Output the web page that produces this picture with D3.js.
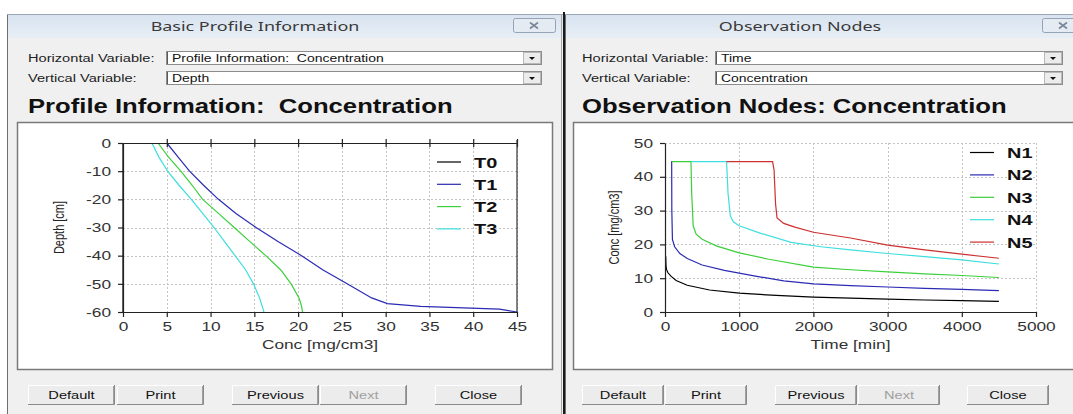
<!DOCTYPE html>
<html>
<head>
<meta charset="utf-8">
<script src="https://cdn.jsdelivr.net/npm/d3@7"></script>
<style>
  body { margin: 0; background: #fff; }
  svg { display: block; font-family: "Liberation Sans", Arial, sans-serif; }
</style>
</head>
<body>
<script>
// ---- profile chart data (depth in cm, concentration in mg/cm3)
const profileDepth = [0, -5, -10, -15, -20, -25, -30, -35, -40, -45, -50, -55, -57, -58, -59, -60];
const concT0 = [0, 0, 0, 0, 0, 0, 0, 0, 0, 0, 0, 0, 0, 0, 0, 0];
const concT1 = [5.0, 6.3, 7.6, 9.2, 10.9, 12.9, 15.2, 17.7, 20.4, 22.8, 25.6, 28.4, 30.2, 34.0, 43.0, 45.0];
const concT2 = [4.0, 5.2, 6.6, 7.9, 9.1, 10.9, 12.7, 14.5, 16.3, 18.0, 19.2, 20.1, 20.3, 20.4, 20.45, 20.5];
const concT3 = [3.3, 4.1, 5.1, 6.4, 7.8, 9.1, 10.4, 11.6, 12.8, 14.0, 14.9, 15.6, 15.8, 15.9, 16.0, 16.1];
const profileNames = ["T0", "T1", "T2", "T3"];
const profileXTicks = [0, 5, 10, 15, 20, 25, 30, 35, 40, 45];
const profileYTicks = [0, -10, -20, -30, -40, -50, -60];

// ---- observation node data (time in min, concentration in mg/cm3)
const timeN1 = [10, 13, 20, 40, 80, 150, 300, 600, 1000, 1500, 2000, 2500, 3000, 3500, 4000, 4500];
const concN1 = [16.5, 13.8, 12.6, 11.6, 10.6, 9.3, 7.9, 6.5, 5.6, 4.9, 4.4, 4.1, 3.8, 3.55, 3.35, 3.15];
const timeN2 = [85, 90, 92, 100, 130, 200, 300, 500, 800, 1200, 1600, 2000, 2500, 3000, 3500, 4000, 4500];
const concN2 = [44.5, 44.5, 30, 21.5, 19.3, 17.3, 15.8, 13.9, 12.3, 10.7, 9.2, 8.3, 7.8, 7.4, 7.0, 6.7, 6.3];
const timeN3 = [90, 350, 360, 380, 420, 500, 700, 1000, 1400, 2000, 2500, 3000, 3500, 4000, 4500];
const concN3 = [44.5, 44.5, 35, 25.5, 23.0, 21.5, 19.5, 17.5, 15.6, 13.3, 12.5, 11.9, 11.3, 10.8, 10.2];
const timeN4 = [350, 830, 850, 880, 920, 1000, 1300, 1700, 2100, 2500, 3000, 3500, 4000, 4500];
const concN4 = [44.5, 44.5, 35, 28.5, 26.7, 25.5, 23.2, 20.6, 19.3, 18.4, 17.3, 16.4, 15.4, 14.2];
const timeN5 = [830, 1450, 1470, 1490, 1510, 1600, 1750, 2000, 2500, 3000, 3500, 4000, 4500];
const concN5 = [44.5, 44.5, 42, 32, 27.8, 26.2, 25.1, 23.6, 21.9, 19.8, 18.4, 17.1, 15.9];
const nodeNames = ["N1", "N2", "N3", "N4", "N5"];
const obsXTicks = [0, 1000, 2000, 3000, 4000, 5000];
const obsYTicks = [0, 10, 20, 30, 40, 50];

const buttonLabels = ["Default", "Print", "Previous", "Next", "Close"];
const lineColors = ["#000000", "#2a2ab4", "#3ccf3c", "#3fdede", "#cc3030"];

const W = 1073, H = 414;
// the screenshot is stretched sideways, so text is widened the same way
const SX = 1.33;

const svg = d3.select("body").append("svg").attr("width", W).attr("height", H);

const defs = svg.append("defs");
const grad = defs.append("linearGradient").attr("id", "tbar").attr("x1", 0).attr("y1", 0).attr("x2", 0).attr("y2", 1);
grad.append("stop").attr("offset", 0).attr("stop-color", "#d7e3f0");
grad.append("stop").attr("offset", 1).attr("stop-color", "#e8eef5");

// text widened by SX around its anchor point
const label = (g, x, y, str, size, opt = {}) =>
  g.append("text")
    .attr("transform", `translate(${x},${y}) scale(${SX},1)${opt.rotate ? " rotate(-90)" : ""}`)
    .attr("font-size", size)
    .attr("font-weight", opt.bold ? "bold" : null)
    .attr("text-anchor", opt.anchor || "start")
    .attr("font-family", opt.family || null)
    .attr("fill", opt.fill || "#111")
    .style("white-space", "pre")
    .text(str);

// window frame + controls
const drawWindow = (o) => {
  const g = svg.append("g");
  g.append("rect").attr("x", o.x0).attr("y", 14).attr("width", o.x1 - o.x0).attr("height", H - 14)
    .attr("fill", "#f0f0f0");
  g.append("rect").attr("x", o.x0).attr("y", 14).attr("width", o.x1 - o.x0).attr("height", 24)
    .attr("fill", "url(#tbar)");
  g.append("line").attr("x1", o.x0 + 0.5).attr("x2", o.x0 + 0.5).attr("y1", 14).attr("y2", H)
    .attr("stroke", "#6e6e6e");
  g.append("line").attr("x1", o.x0).attr("x2", o.x1).attr("y1", 14.5).attr("y2", 14.5)
    .attr("stroke", "#9aa6b4");

  label(g, o.titleX, 30.5, o.title, 13.5,
    { anchor: "middle", fill: "#3a3a3a", family: "'Noto Sans', 'DejaVu Sans', sans-serif" });

  // close box
  g.append("rect").attr("x", o.closeX + 0.5).attr("y", 18.5).attr("width", 42).attr("height", 14)
    .attr("fill", "#e4ebf3").attr("stroke", "#94a3b6").attr("rx", 2);
  g.append("path")
    .attr("d", `M${o.closeX + 17},22.5L${o.closeX + 25},28.5M${o.closeX + 25},22.5L${o.closeX + 17},28.5`)
    .attr("stroke", "#7a8796").attr("stroke-width", 1.6);

  // labels + dropdowns
  [["Horizontal Variable:", o.hVal, 51], ["Vertical Variable:", o.vVal, 71]].forEach(([lab, val, y]) => {
    label(g, o.labelX, y + 11, lab, 11, { fill: "#222" });
    g.append("rect").attr("x", o.ddX + 0.5).attr("y", y + 0.5).attr("width", o.ddR - o.ddX).attr("height", 13)
      .attr("fill", "#fff").attr("stroke", "#8c8c8c");
    g.append("line").attr("x1", o.ddX + 1.5).attr("x2", o.ddX + 1.5).attr("y1", y + 1).attr("y2", y + 13)
      .attr("stroke", "#5a5a5a");
    label(g, o.ddX + 6, y + 11, val, 10.5);
    g.append("rect").attr("x", o.ddR - 17.5).attr("y", y + 1.5).attr("width", 17).attr("height", 11)
      .attr("fill", "#ececec").attr("stroke", "#b8b8b8");
    g.append("path").attr("d", `M${o.ddR - 12},${y + 6}h6l-3,3z`).attr("fill", "#111");
  });

  label(g, o.labelX, 113, o.chartTitle, 19.3, { bold: true });

  // chart panel
  g.append("rect").attr("x", o.panelX + 0.5).attr("y", 122.5).attr("width", o.panelR - o.panelX).attr("height", 247)
    .attr("fill", "#fff").attr("stroke", "#7a7a7a").attr("stroke-width", 1.5);

  // buttons
  o.buttons.forEach((bx, i) => {
    const bw = o.buttonW;
    const b = g.append("g").attr("transform", `translate(${bx},385)`);
    b.append("rect").attr("width", bw).attr("height", 20).attr("fill", "#ececec");
    b.append("path").attr("d", `M0.5,20V0.5H${bw}`).attr("fill", "none").attr("stroke", "#ffffff");
    b.append("path").attr("d", `M0,19.5H${bw - 0.5}V0`).attr("fill", "none").attr("stroke", "#8a8a8a");
    b.append("path").attr("d", `M${bw - 1.5},1V19`).attr("fill", "none").attr("stroke", "#a0a0a0");
    label(b, bw / 2, 14, buttonLabels[i], 11,
      { anchor: "middle", fill: buttonLabels[i] === "Next" ? "#a0a0a0" : "#111" });
  });
  return g;
};

// chart inside panel
const drawChart = (c) => {
  const g = svg.append("g");
  const x = d3.scaleLinear().domain(c.xDomain).range([c.left, c.right]);
  const y = d3.scaleLinear().domain(c.yDomain).range([c.bottom, c.top]);

  // grid
  g.append("g").selectAll("line").data(c.xTicks.slice(1)).join("line")
    .attr("x1", (d) => Math.round(x(d)) + 0.5).attr("x2", (d) => Math.round(x(d)) + 0.5)
    .attr("y1", c.top).attr("y2", c.bottom)
    .attr("stroke", "#c4c4c4").attr("stroke-dasharray", "2,2");
  g.append("g").selectAll("line").data(c.yTicks.filter((d) => d !== c.yDomain[0])).join("line")
    .attr("x1", c.left).attr("x2", c.right)
    .attr("y1", (d) => Math.round(y(d)) + 0.5).attr("y2", (d) => Math.round(y(d)) + 0.5)
    .attr("stroke", "#c4c4c4").attr("stroke-dasharray", "2,2");

  // series
  const line = d3.line().x((d) => x(d[0])).y((d) => y(d[1]));
  c.series.forEach((s, i) => {
    const pts = s.xs.map((v, k) => [v, s.ys[k]]);
    g.append("path").datum(pts).attr("d", line).attr("fill", "none")
      .attr("stroke", lineColors[i]).attr("stroke-width", 1.2);
  });

  // axes
  const fmt = (d) => String(d);
  const xAxis = g.append("g").attr("transform", `translate(0,${c.bottom})`)
    .call(d3.axisBottom(x).tickValues(c.xTicks).tickSize(5).tickSizeOuter(0).tickFormat(fmt));
  const yAxis = g.append("g").attr("transform", `translate(${c.left},0)`)
    .call(d3.axisLeft(y).tickValues(c.yTicks).tickSize(5).tickSizeOuter(0).tickFormat(fmt));
  [xAxis, yAxis].forEach((a) => {
    a.select(".domain").attr("stroke", "#222").attr("stroke-width", 1.2);
    a.selectAll(".tick line").attr("stroke", "#222").attr("stroke-width", 1.2);
    a.selectAll(".tick text").attr("font-family", "'Liberation Sans', Arial, sans-serif")
      .attr("font-size", 13).attr("fill", "#333").attr("transform", `scale(${SX},1)`);
  });
  xAxis.selectAll(".tick text").attr("y", 10).attr("dy", "0.71em");
  yAxis.selectAll(".tick text").attr("x", -12 / SX);

  if (c.boxed) {
    const topAxis = g.append("g").attr("transform", `translate(0,${c.top})`)
      .call(d3.axisTop(x).tickValues(c.xTicks.slice(1)).tickSizeOuter(0).tickFormat(""));
    topAxis.selectAll(".tick line").attr("y1", -4).attr("y2", 4).attr("stroke", "#222").attr("stroke-width", 1.2);
    topAxis.select(".domain").attr("stroke", "#222").attr("stroke-width", 1.2);
    g.append("line").attr("x1", c.right).attr("x2", c.right).attr("y1", c.top - 3).attr("y2", c.bottom)
      .attr("stroke", "#333").attr("stroke-width", 1.2);
  }

  label(g, (c.left + c.right) / 2, 349, c.xTitle, 13, { anchor: "middle", fill: "#333" });
  label(g, c.yTitleX, (c.top + c.bottom) / 2, c.yTitle, 11, { anchor: "middle", fill: "#222", rotate: true });

  // legend
  c.series.forEach((s, i) => {
    const ly = c.legendY + i * c.legendStep;
    g.append("line").attr("x1", c.legendX).attr("x2", c.legendX + 24).attr("y1", ly).attr("y2", ly)
      .attr("stroke", lineColors[i]).attr("stroke-width", 1.2);
    label(g, c.legendX + 37, ly + 5.5, s.name, 15, { bold: true });
  });
};

// left window: Basic Profile Information
drawWindow({
  x0: 7, x1: 563, title: "Basic Profile Information", titleX: 255, closeX: 513,
  labelX: 28, ddX: 166, ddR: 541,
  hVal: "Profile Information:  Concentration", vVal: "Depth",
  chartTitle: "Profile Information:  Concentration",
  panelX: 17, panelR: 552,
  buttons: [28, 117, 232, 320, 435], buttonW: 87,
});
drawChart({
  xDomain: [0, 45], yDomain: [-60, 0], left: 123, right: 517, top: 143, bottom: 312,
  xTicks: profileXTicks, yTicks: profileYTicks, boxed: true,
  xTitle: "Conc [mg/cm3]", yTitle: "Depth [cm]", yTitleX: 64,
  legendX: 437, legendY: 162, legendStep: 22.3,
  series: [concT0, concT1, concT2, concT3].map((v, i) => ({ name: profileNames[i], xs: v, ys: profileDepth })),
});

// divider between windows
svg.append("line").attr("x1", 561.5).attr("x2", 561.5).attr("y1", 14).attr("y2", H).attr("stroke", "#a8a8a8");
svg.append("line").attr("x1", 564).attr("x2", 564).attr("y1", 12).attr("y2", H).attr("stroke", "#1a1a1a").attr("stroke-width", 2);

// right window: Observation Nodes
drawWindow({
  x0: 565, x1: 1090, title: "Observation Nodes", titleX: 800, closeX: 1042,
  labelX: 582, ddX: 715, ddR: 1062,
  hVal: "Time", vVal: "Concentration",
  chartTitle: "Observation Nodes: Concentration",
  panelX: 573, panelR: 1090,
  buttons: [582, 665, 775, 858, 967], buttonW: 82,
});
drawChart({
  xDomain: [0, 5000], yDomain: [0, 50], left: 665, right: 1036, top: 143, bottom: 312,
  xTicks: obsXTicks, yTicks: obsYTicks, boxed: false,
  xTitle: "Time [min]", yTitle: "Conc [mg/cm3]", yTitleX: 619,
  legendX: 970, legendY: 152.5, legendStep: 22.4,
  series: [[timeN1, concN1], [timeN2, concN2], [timeN3, concN3], [timeN4, concN4], [timeN5, concN5]]
    .map(([t, v], i) => ({ name: nodeNames[i], xs: t, ys: v })),
});
</script>
</body>
</html>
